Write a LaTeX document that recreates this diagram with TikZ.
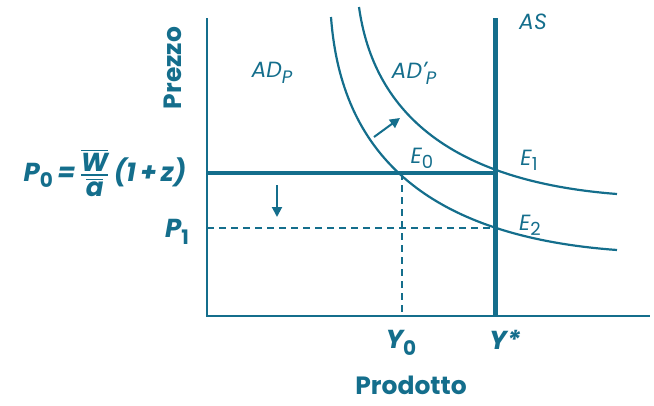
\documentclass[tikz,border=0pt]{standalone}
\usepackage{amsmath}
\usepackage{fontspec}
\setmainfont{Poppins}
\usetikzlibrary{arrows.meta}
\definecolor{tc}{RGB}{20,110,140}
\newcommand{\sbs}[1]{\raisebox{-0.45ex}{\fontsize{18}{20}\selectfont #1}}
\newcommand{\dsbs}[1]{\raisebox{-0.4ex}{\upshape\fontsize{18}{20}\selectfont #1}}
\newcommand{\bsbs}[1]{\raisebox{-0.45ex}{\upshape\fontsize{20}{22}\selectfont #1}}
\begin{document}
\begin{tikzpicture}[x=1pt,y=-1pt,
  axis/.style={draw=tc, line width=2pt},
  curve/.style={draw=tc, line width=2.2pt},
  heavy/.style={draw=tc, line width=4pt},
  heavier/.style={draw=tc, line width=5pt},
  dline/.style={draw=tc, line width=1.3pt, dash pattern=on 7pt off 5pt},
  arr/.style={draw=tc, line width=2pt, -{Triangle[length=10pt,width=10pt]}, fill=tc},
  lbl/.style={text=tc, inner sep=0pt, font=\itshape\fontsize{22}{24}\selectfont},
  blbl/.style={text=tc, inner sep=0pt, font=\bfseries\itshape\fontsize{26}{28}\selectfont},
  ttl/.style={text=tc, inner sep=0pt, font=\bfseries\fontsize{25}{27}\selectfont}]
\useasboundingbox (0,0) rectangle (654,405);
\coordinate (O) at (207,316);
\coordinate (Ytop) at (207,18);
\coordinate (Xend) at (650,316);
\coordinate (AStop) at (495,18);
\coordinate (ASbot) at (495,316);
\coordinate (P0L) at (207,173);
\coordinate (E1) at (495,173);
\coordinate (E0) at (402,173);
\coordinate (Y0b) at (402,316);
\coordinate (P1L) at (207,228);
\coordinate (E2) at (495,228);
\coordinate (ADs) at (331,17);
\coordinate (ADe) at (617,250);
\coordinate (ADps) at (359,7);
\coordinate (ADpe) at (617,194);
\coordinate (A1s) at (374,137);
\coordinate (A1e) at (400,118);
\coordinate (A2s) at (277,185);
\coordinate (A2e) at (277,217);
% axes
\draw[axis] (Ytop) -- (O) -- (Xend);
% dashed
\draw[dline] (E0) -- (Y0b);
\draw[dline] (P1L) -- (E2);
% curves
\draw[curve] (ADs) .. controls (340,140) and (410,235) .. (ADe);
\draw[curve] (ADps) .. controls (372,100) and (435,180) .. (ADpe);
% P0 line and AS
\draw[heavy] (P0L) -- (E1);
\draw[heavier] (AStop) -- (ASbot);
% arrows
\draw[arr] (A1s) -- (A1e);
\draw[arr] (A2s) -- (A2e);
% labels
\node[lbl] (adp) at (272,73) {AD\sbs{P}};
\node[lbl] (adpp) at (414,73) {AD\raisebox{0.15ex}{’}\hspace{-0.05em}\sbs{P}};
\node[lbl] (as) at (533,22) {AS};
\node[lbl] (e0) at (422,158) {E\dsbs{0}};
\node[lbl] (e1) at (529,160) {E\dsbs{1}};
\node[lbl] (e2) at (530,225) {E\dsbs{2}};
\node[blbl] (y0) at (401,343) {Y\bsbs{0}};
\node[blbl] (ys) at (505,340) {Y*};
\node[ttl] (prod) at (411,385) {Prodotto};
\node[ttl, rotate=90] (prez) at (173,68) {Prezzo};
\node[blbl] (p1) at (177,232) {P\bsbs{1}};
\node[blbl] (p0) at (105,173) {P\bsbs{0}\,=\,$\genfrac{}{}{2pt}{}{\overline{\mbox{W}}}{\overline{\mbox{a}}}$\,(1\,+\,z)};
\end{tikzpicture}
\end{document}
